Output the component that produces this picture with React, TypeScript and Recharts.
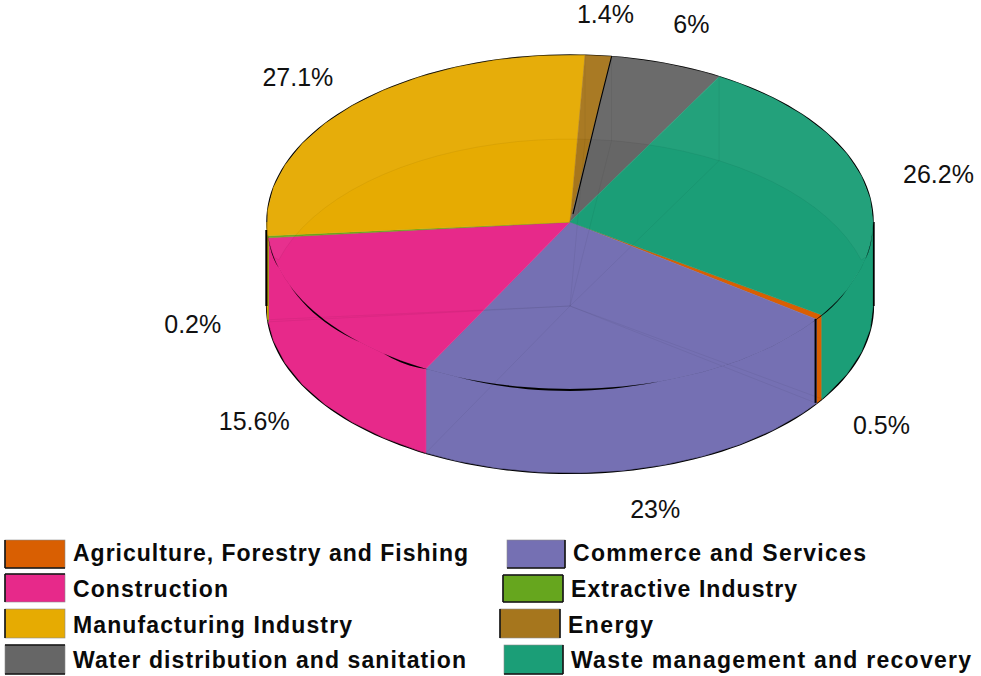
import { PieChart, Pie, Legend } from 'recharts'

// Sectoral shares, clockwise, same order as the legend
const SECTORS = ['Agriculture, Forestry and Fishing','Commerce and Services','Construction','Extractive Industry','Manufacturing Industry','Energy','Water distribution and sanitation','Waste management and recovery']
const SHARES = [0.5, 23, 15.6, 0.2, 27.1, 1.4, 6, 26.2]
const COLORS = ['#D95F02','#7570B3','#E7298A','#66A61E','#E6AB02','#A6761D','#666666','#1B9E77']

const W = 981, H = 676
const CX = 570, CY = 222, RX = 303, TILT = 0.551, DEPTH = 84
const START = -33.8
const FACET = 8
const FONT = '"Liberation Sans", Arial, sans-serif'

// legend swatch boxes and the sides that carry a dark edge
const SWATCHES = [
  {x:5,y:540,w:60,h:28,edge:'lb',tx:73,tw:395},
  {x:507,y:540,w:58,h:28,edge:'rb',tx:573,tw:293},
  {x:5,y:574,w:60,h:28,edge:'lt',tx:73,tw:155},
  {x:503,y:575,w:60,h:27,edge:'ltrb',tx:571,tw:226},
  {x:5,y:609,w:60,h:29,edge:'l',tx:73,tw:279},
  {x:500,y:609,w:60,h:29,edge:'lr',tx:568,tw:85},
  {x:5,y:645,w:60,h:29,edge:'tb',tx:73,tw:393},
  {x:504,y:645,w:59,h:29,edge:'br',tx:571,tw:400},
]
const TEXT_Y = [553,589,625,660,553,589,625,660]
const LEGEND_ORDER = [0,2,4,6,1,3,5,7]

// thin slivers of the dark rim showing through along the front edge: from, to, thickness
const RIM_SLIVERS = [[-175,-164,2],[-158,-134,2],[-128,-118,2],[-112,-73,2],[-37,-23.5,1.4],[-13,-3,1.6]]

const rad = (d:number) => d*Math.PI/180
const ry = (r:number) => r*TILT
const pt = (p:any, t:number, dy=0, r=p.outerRadius) => [p.cx + r*Math.cos(rad(t)), p.cy - ry(r)*Math.sin(rad(t)) + dy]
const poly = (pts:number[][]) => 'M' + pts.map(q=>`${q[0].toFixed(2)},${q[1].toFixed(2)}`).join('L')

// angles from hi down to lo, snapped to the facet grid so neighbouring sectors share corners
const sweep = (hi:number, lo:number, step=FACET) => {
  const out = [hi]
  let a = Math.floor(hi/step)*step
  if (a===hi) a -= step
  for (; a>lo; a-=step) out.push(a)
  out.push(lo)
  return out
}

// overlap of a sector with an angle window, repeated every turn
const overlaps = (p:any, lo:number, hi:number) => {
  const res:number[][] = []
  for (let k=-1;k<=1;k++) {
    const a = Math.min(p.startAngle, hi+360*k), b = Math.max(p.endAngle, lo+360*k)
    if (a>b) res.push([a,b,k])
  }
  return res
}

// black outline that peeks out behind the coloured faces
const OutlineFace = (p:any) => {
  const top = sweep(p.startAngle,p.endAngle,2).map(t=>pt(p,t))
  const front = overlaps(p,-180,0)
  return (
    <g fill="none" stroke="#000">
      <path d={poly(top)} strokeWidth={1.5}/>
      {front.map((f,i)=>(
        <path key={i} d={poly(sweep(f[0],f[1],2).map(t=>pt(p,t,DEPTH)))} strokeWidth={2.2}/>
      ))}
    </g>
  )
}

const WallFace = (p:any) => (
  <g>
    {overlaps(p,-180,0).map((f,i)=>{
      const ts = sweep(f[0],f[1])
      const d = poly([...ts.map(t=>pt(p,t)), ...ts.slice().reverse().map(t=>pt(p,t,DEPTH))])+'Z'
      const leftEnd = f[1]===-180+360*f[2], rightEnd = f[0]===360*f[2]
      return (
        <g key={i}>
          <path d={d} fill={p.fill} stroke={p.fill} strokeWidth={0.6}/>
          {leftEnd && <path d={poly([pt(p,f[1],8,p.outerRadius+0.6),pt(p,f[1],DEPTH,p.outerRadius+0.6)])} stroke="#000" strokeWidth={2.2}/>}
          {rightEnd && <path d={poly([pt(p,f[0],0,p.outerRadius+0.8),pt(p,f[0],DEPTH,p.outerRadius+0.8)])} stroke="#000" strokeWidth={1.8}/>}
        </g>
      )
    })}
  </g>
)

const TopFace = (p:any) => {
  const d = poly([[p.cx,p.cy], ...sweep(p.startAngle,p.endAngle).map(t=>pt(p,t))])+'Z'
  return <path d={d} fill={p.fill} stroke={p.fill} strokeWidth={0.5}/>
}

// the far wall and the floor edges showing faintly through the top
const DetailFace = (p:any) => {
  const low = (t:number) => {
    const a = pt(p,t,DEPTH), b = pt(p,-t)
    return [a[0], Math.min(a[1],b[1])]
  }
  const back = overlaps(p,0,180)
  const rimEdge = pt(p,p.startAngle)
  const isBack = back.length>0 && Math.sin(rad(p.startAngle))>0
  return (
    <g>
      {back.map((f,i)=>{
        const ts = sweep(f[0],f[1],4)
        const d = poly([...ts.map(t=>pt(p,t)), ...ts.slice().reverse().map(low)])+'Z'
        return (
          <g key={i}>
            <path d={d} fill="#fff" fillOpacity={0.035}/>
            <path d={poly(ts.map(low))} fill="none" stroke="#000" strokeOpacity={0.05}/>
          </g>
        )
      })}
      {isBack && <path d={poly([rimEdge,[rimEdge[0],rimEdge[1]+DEPTH]])} stroke="#000" strokeOpacity={0.05}/>}
      <path d={poly([[p.cx,p.cy+DEPTH],pt(p,p.startAngle,DEPTH)])} stroke="#000" strokeOpacity={0.05} fill="none"/>
      {RIM_SLIVERS.map((s,i)=>overlaps(p,s[0],s[1]).map((f,j)=>{
        const ts = sweep(f[0],f[1],2)
        const off = (t:number) => {
          const u = (t-360*f[2]-s[0])/(s[1]-s[0])
          return s[2]*Math.sin(Math.PI*u)
        }
        const d = poly([...ts.map(t=>pt(p,t)), ...ts.slice().reverse().map(t=>pt(p,t,off(t)))])+'Z'
        return <path key={`${i}-${j}`} d={d} fill="#000"/>
      }))}
      {p.name===SECTORS[0] && <path d={poly([pt(p,p.endAngle,0,p.outerRadius-1),pt(p,p.endAngle,DEPTH,p.outerRadius-1)])} stroke="#000" strokeWidth={2}/>}
      {p.name===SECTORS[5] && <path d={poly([pt(p,p.endAngle,0,p.outerRadius+1),pt(p,p.endAngle,0,p.outerRadius*0.72),[p.cx+3,p.cy-8]])} fill="none" stroke="#000" strokeWidth={1.1}/>}
    </g>
  )
}

// percent labels sit outside the rim, front ones dropped below the wall
const renderLabel = (p:any) => {
  const s = Math.sin(rad(p.midAngle)), c = Math.cos(rad(p.midAngle))
  const x = p.cx + 1.25*p.outerRadius*c
  const y = p.cy - 1.25*ry(p.outerRadius)*s + (s<0?DEPTH:0)
  return <text x={x} y={y} textAnchor="middle" dominantBaseline="central" fontFamily={FONT} fontSize={25} fill="#111">{`${p.value}%`}</text>
}

const LegendRows = () => (
  <svg width={W} height={H} style={{display:'block'}}>
    {LEGEND_ORDER.map((idx,i)=>{
      const b = SWATCHES[idx]
      return (
        <g key={idx}>
          <rect x={b.x} y={b.y} width={b.w} height={b.h} fill={COLORS[idx]} stroke="#8a8a8a" strokeWidth={0.6}/>
          {b.edge.includes('l') && <line x1={b.x} x2={b.x} y1={b.y} y2={b.y+b.h} stroke="#111" strokeWidth={1.6}/>}
          {b.edge.includes('r') && <line x1={b.x+b.w} x2={b.x+b.w} y1={b.y} y2={b.y+b.h} stroke="#111" strokeWidth={1.6}/>}
          {b.edge.includes('t') && <line x1={b.x} x2={b.x+b.w} y1={b.y} y2={b.y} stroke="#111" strokeWidth={1.6}/>}
          {b.edge.includes('b') && <line x1={b.x} x2={b.x+b.w} y1={b.y+b.h} y2={b.y+b.h} stroke="#111" strokeWidth={1.6}/>}
          <text x={b.tx} y={TEXT_Y[i]} textLength={b.tw} lengthAdjust="spacing" dominantBaseline="central" fontFamily={FONT} fontWeight={700} fontSize={23} fill="#0a0a0a">{SECTORS[idx]}</text>
        </g>
      )
    })}
  </svg>
)

const table = SECTORS.map((name,i)=>({name, value:SHARES[i], fill:COLORS[i]}))

export default function App() {
  const layer = {data:table, dataKey:'value', nameKey:'name', cx:CX, cy:CY, outerRadius:RX, startAngle:START, endAngle:START-360, isAnimationActive:false, legendType:'none' as const, stroke:'none'}
  return (
    <div style={{position:'absolute',left:0,top:0,width:W,height:H,background:'#fff'}}>
      <PieChart width={W} height={H} margin={{top:0,right:0,bottom:0,left:0}}>
        <Pie {...layer} shape={OutlineFace} inactiveShape={OutlineFace}/>
        <Pie {...layer} shape={WallFace} inactiveShape={WallFace}/>
        <Pie {...layer} shape={TopFace} inactiveShape={TopFace}/>
        <Pie {...layer} shape={DetailFace} inactiveShape={DetailFace} label={renderLabel} labelLine={false}/>
        <Legend content={LegendRows} wrapperStyle={{position:'absolute',left:0,top:0,width:W,height:H,pointerEvents:'none'}}/>
      </PieChart>
    </div>
  )
}
